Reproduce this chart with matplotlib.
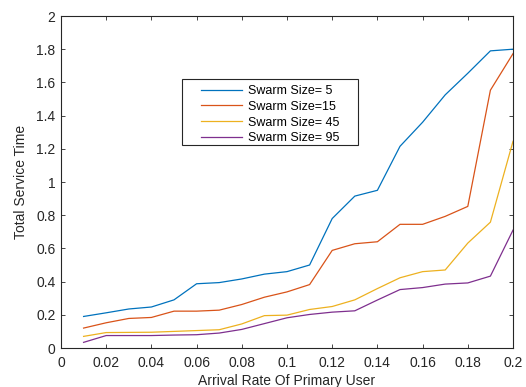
import matplotlib
matplotlib.use("Agg")
import matplotlib.pyplot as plt
from matplotlib.ticker import MultipleLocator
from matplotlib.patches import Rectangle

x = [0.01, 0.02, 0.03, 0.04, 0.05, 0.06, 0.07, 0.08, 0.09, 0.10,
     0.11, 0.12, 0.13, 0.14, 0.15, 0.16, 0.17, 0.18, 0.19, 0.20]
swarm5 = [0.19, 0.212, 0.235, 0.247, 0.29, 0.387, 0.394, 0.416, 0.445, 0.46,
          0.5, 0.78, 0.915, 0.95, 1.215, 1.36, 1.525, 1.655, 1.79, 1.80]
swarm15 = [0.12, 0.152, 0.178, 0.184, 0.222, 0.222, 0.228, 0.262, 0.306, 0.338,
           0.382, 0.588, 0.628, 0.64, 0.745, 0.745, 0.793, 0.853, 1.553, 1.773]
swarm45 = [0.07, 0.093, 0.094, 0.095, 0.1, 0.105, 0.11, 0.145, 0.195, 0.198,
           0.232, 0.25, 0.29, 0.358, 0.423, 0.46, 0.47, 0.632, 0.758, 1.245]
swarm95 = [0.034, 0.075, 0.075, 0.075, 0.078, 0.08, 0.09, 0.112, 0.147, 0.182,
           0.202, 0.216, 0.224, 0.289, 0.352, 0.364, 0.385, 0.392, 0.433, 0.71]
labels = ["Swarm Size= 5", "Swarm Size=15", "Swarm Size= 45", "Swarm Size= 95"]
colors = ["#0072BD", "#D95319", "#EDB120", "#7E2F8E"]

W, H = 526, 387
plt.rcParams['font.family'] = ['Liberation Sans', 'DejaVu Sans']
fig = plt.figure(figsize=(W / 100, H / 100), dpi=100)
ax = fig.add_axes([61 / W, 1 - 348 / H, 452 / W, 332 / H])
for ys, lab, c in zip([swarm5, swarm15, swarm45, swarm95], labels, colors):
    ax.plot(x, ys, color=c, lw=0.9, label=lab)

ax.set_xlim(0, 0.2)
ax.set_ylim(0, 2)
ax.xaxis.set_major_locator(MultipleLocator(0.02))
ax.yaxis.set_major_locator(MultipleLocator(0.2))
ax.set_xticklabels([f"{v:g}" for v in ax.get_xticks()])
ax.set_yticklabels([f"{v:g}" for v in ax.get_yticks()])
ax.tick_params(direction='in', top=True, right=True, length=3, width=0.6,
               labelsize=10, colors='#262626', labelcolor='#262626')
ax.tick_params(axis='x', pad=6)
ax.tick_params(axis='y', pad=4)
for s in ax.spines.values():
    s.set_linewidth(0.8)
    s.set_color('#262626')
ax.set_xlabel("Arrival Rate Of Primary User", fontsize=10, color='#262626', labelpad=3)
ax.set_ylabel("Total Service Time", fontsize=10, color='#262626', labelpad=6)

# legend frame
frame = Rectangle((182 / W, 1 - 145 / H), 176 / W, 66 / H, transform=fig.transFigure,
                  facecolor='white', edgecolor='#262626', linewidth=0.8, zorder=4)
ax.add_artist(frame)
leg = ax.legend(loc='upper left', bbox_to_anchor=(201 / W, 1 - 85 / H),
                bbox_transform=fig.transFigure, fontsize=9, frameon=False,
                handlelength=3.28, handletextpad=0.48, labelspacing=0.3,
                borderpad=0, borderaxespad=0)
leg.set_zorder(5)
fig.savefig("out.png", dpi=100)
